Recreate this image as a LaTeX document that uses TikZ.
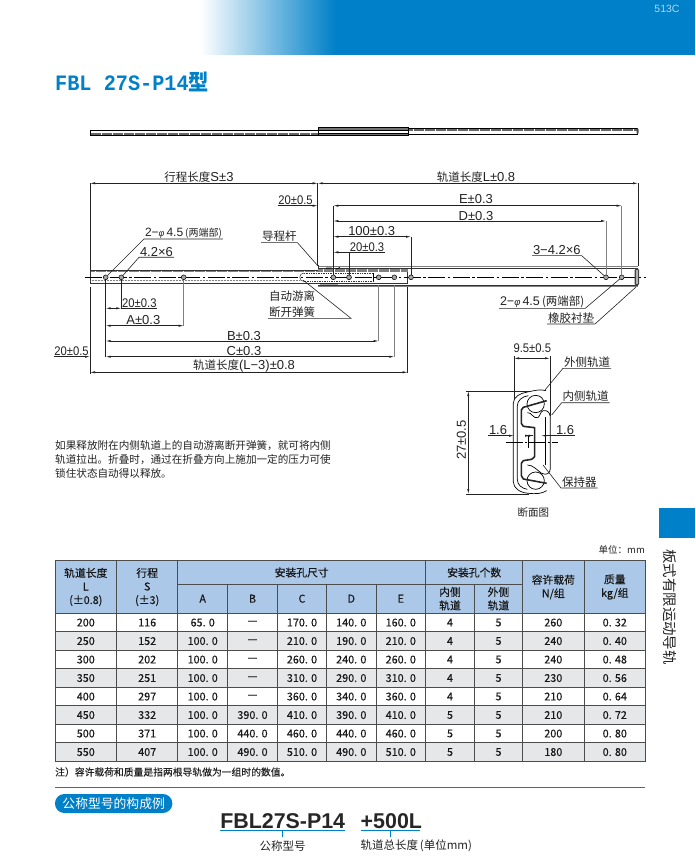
\documentclass[tikz,border=0pt]{standalone}
\usepackage{fontspec}
\usepackage{xcolor}
\usetikzlibrary{arrows.meta}
\setmainfont{Noto Sans CJK SC}
\newfontfamily\dimfont{Liberation Sans}
\newfontfamily\monofont{Liberation Mono}
\newfontfamily\tabfont[FakeBold=0.3]{Noto Sans CJK SC}
\definecolor{headblue}{HTML}{0080C8}
\definecolor{cellblue}{HTML}{ACC8E8}
\definecolor{rowgray}{HTML}{E6E7E8}
\definecolor{inkgray}{HTML}{222222}
\tikzset{
        dimline/.style={line width=0.6pt, draw=inkgray, {Latex[length=5pt,width=2.2pt]}-{Latex[length=5pt,width=2.2pt]}},
        dimto/.style={line width=0.6pt, draw=inkgray, -{Latex[length=5pt,width=2.2pt]}},
        extline/.style={line width=0.6pt, draw=inkgray},
        leader/.style={line width=0.6pt, draw=inkgray},
        cnlabel/.style={inner sep=0.8pt, text=inkgray, font=\fontsize{11.5}{12}\selectfont},
        bignum/.style={inner sep=0.8pt, text=inkgray, font=\dimfont\fontsize{13}{13}\selectfont},
        smallnum/.style={inner sep=0.8pt, xscale=0.9, text=inkgray, font=\dimfont\fontsize{12.5}{13}\selectfont},
        hole/.style={circle, draw=black, fill=gray!70, line width=0.5pt, inner sep=1.7pt},
        cell/.style={text=black!90, inner sep=0pt, align=center, font=\tabfont\fontsize{10.8}{13.5}\selectfont},
        tabrule/.style={line width=0.9pt, draw=black!70},
}
\begin{document}
\begin{tikzpicture}[x=1pt, y=-1pt]
        \useasboundingbox (0, 0) rectangle (695, 866);
        \shade[left color=white, right color=headblue] (200, 0) rectangle (335, 55);
        \fill[headblue] (335, 0) rectangle (695, 55);
        \node[text=white!70!headblue, font=\dimfont\fontsize{10.5}{11}\selectfont] (pagenum) at (667, 9) {513C};
        \node[anchor=west, inner sep=0pt, xscale=0.92, text=headblue, font=\bfseries\fontsize{22}{22}\selectfont] (title) at (55, 82) {{\monofont\bfseries FBL 27S-P14}型};

        \draw[line width=0.7pt, fill=white] (90, 130.5) rectangle (318, 135.5);
        \draw[line width=2pt, black!60, dash pattern=on 0.7pt off 0.4pt] (90.5, 134) -- (318, 134);
        \draw[line width=0.7pt, fill=white] (408, 128.5) rectangle (637, 134);
        \draw[line width=2pt, black!60, dash pattern=on 0.7pt off 0.4pt] (408, 129.7) -- (637, 129.7);
        \draw[line width=0.7pt, fill=black!55] (318, 127.5) rectangle (408, 135.2);
        \draw[line width=0.7pt, fill=white] (318, 130.8) rectangle (408, 133);
        \fill[black!70, rounded corners=0.8pt] (636.5, 128.5) rectangle (638.5, 134);

        \fill[white] (90, 270) rectangle (407.7, 283.3);
        \draw[line width=2.4pt, black!50, dash pattern=on 0.8pt off 0.3pt] (90, 271.3) -- (318, 271.3);
        \draw[line width=0.9pt, black!50, dash pattern=on 0.8pt off 0.7pt] (90, 280.8) -- (300, 280.8);
        \draw[line width=0.7pt, black!80] (90, 270) -- (318, 270) (90, 283.3) -- (407.7, 283.3) (90, 270) -- (90, 283.3) (407.7, 270) -- (407.7, 283.3);
        \draw[line width=1.6pt, black!50] (318, 266.5) -- (638, 266.5);
        \draw[line width=0.6pt, black!80] (318, 268.5) -- (638, 268.5);
        \draw[line width=2.4pt, black!50, dash pattern=on 0.8pt off 0.3pt] (318, 270.5) -- (407.7, 270.5);
        \draw[line width=0.7pt, black!80] (318, 265.5) -- (318, 268.5) (318, 285) -- (638, 285);
        \draw[line width=0.9pt, black!50] (318, 286.8) -- (638, 286.8);
        \draw[line width=0.5pt, black!80, dash pattern=on 1pt off 0.7pt] (304, 273) -- (373, 273) -- (373, 281.5) -- (304, 281.5);
        \draw[line width=0.5pt, black!80] (304, 273) arc[start angle=270, end angle=90, radius=4.25];
        \draw[line width=0.7pt, black] (320, 284) -- (338, 284) (326, 268) -- (332, 268) (336, 269) -- (340, 267.5);
        \draw[line width=0.5pt] (373, 273) -- (373, 281);
        \draw[line width=0.5pt, black, dash pattern=on 17pt off 2.5pt on 2.5pt off 2.5pt] (85, 277.3) -- (646, 277.3);
        \fill[black!75, rounded corners=1.5pt] (634.5, 268.5) rectangle (639, 285.5);
        \fill[white, opacity=0.6] (636, 270) rectangle (637.5, 284);

        \foreach \holename/\holex in {a/105.7, b/121.3, c/183.7, d/333.3, e/349, f/378.7, g/394.3, h/411, i/606, j/621.7}
                \node[hole] (h\holename) at (\holex, 277.3) {};
        \coordinate (railL) at (90, 277.3);
        \coordinate (railM) at (317.7, 277.3);
        \coordinate (railI) at (407.7, 277.3);
        \coordinate (railR) at (638, 277.3);

        \draw[extline] (railL |- 0, 183.3) -- (railL |- 0, 270) (railL |- 0, 287) -- (railL |- 0, 374);
        \draw[extline] (railM |- 0, 183.3) -- (railM |- 0, 266);
        \draw[extline] (railR |- 0, 183.3) -- (railR |- 0, 266);
        \draw[extline] (hd |- 0, 205.7) -- (hd);
        \draw[extline] (he |- 0, 252.3) -- (he);
        \draw[extline] (hh |- 0, 236.7) -- (hh);
        \draw[extline, gray] (hi |- 0, 221) -- (hi);
        \draw[extline, gray, line width=0.9pt] (hj |- 0, 205.7) -- (hj);
        \draw[extline, line width=0.9pt] (ha) -- (ha |- 0, 357);
        \draw[extline] (hb) -- (hb |- 0, 309);
        \draw[extline, gray] (hc) -- (hc |- 0, 326);
        \draw[extline, gray] (hf |- 0, 285) -- (hf |- 0, 341);
        \draw[extline, gray] (hg |- 0, 285) -- (hg |- 0, 357);
        \draw[extline] (railI |- 0, 287) -- (railI |- 0, 372.5);

        \draw[dimline] (railL |- 0, 183.3) -- (railM |- 0, 183.3);
        \draw[dimline] (railM |- 0, 183.3) -- (railR |- 0, 183.3);
        \draw[dimto] (278, 205.7) -- (railM |- 0, 205.7);
        \draw[dimline] (hd |- 0, 205.7) -- (hj |- 0, 205.7);
        \draw[dimline] (hd |- 0, 221) -- (hi |- 0, 221);
        \draw[dimline] (hd |- 0, 236.7) -- (hh |- 0, 236.7);
        \draw[dimto] (he |- 0, 252.3) -- (hd |- 0, 252.3);
        \draw[dimline] (ha |- 0, 308.3) -- (hb |- 0, 308.3);
        \draw[dimline] (ha |- 0, 325.7) -- (hc |- 0, 325.7);
        \draw[dimline] (ha |- 0, 341) -- (hf |- 0, 341);
        \draw[dimline] (ha |- 0, 356.7) -- (hg |- 0, 356.7);
        \draw[dimto] (54, 356.7) -- (railL |- 0, 356.7);
        \draw[dimline] (railL |- 0, 372.3) -- (railI |- 0, 372.3);

        \node[cnlabel, anchor=south] (stroke) at (199, 183) {行程长度{\dimfont\fontsize{13}{13}\selectfont S±3}};
        \node[cnlabel, anchor=south] (railtotal) at (476, 183) {轨道长度{\dimfont\fontsize{13}{13}\selectfont L±0.8}};
        \node[smallnum, anchor=south] (topoff) at (295.5, 205.5) {20±0.5};
        \node[bignum, anchor=south] (dimE) at (476, 204.5) {E±0.3};
        \node[bignum, anchor=south] (dimD) at (476, 222) {D±0.3};
        \node[bignum, anchor=south] (dimpitch) at (371.7, 237) {100±0.3};
        \node[smallnum, anchor=south west] (rpitch) at (349, 252.3) {20±0.3};
        \draw[leader] (rpitch.south west) -- (rpitch.south east);
        \node[smallnum, anchor=south west] (lpitch) at (121.3, 308.3) {20±0.3};
        \draw[leader] (lpitch.south west) -- (lpitch.south east);
        \node[bignum, anchor=south] (dimA) at (143.3, 326) {A±0.3};
        \node[bignum, anchor=south] (dimB) at (244, 342) {B±0.3};
        \node[bignum, anchor=south] (dimC) at (244, 357) {C±0.3};
        \node[smallnum, anchor=south] (leftoff) at (71.5, 356.7) {20±0.5};
        \node[cnlabel, anchor=south] (railshort) at (244, 373) {轨道长度{\dimfont\fontsize{13}{13}\selectfont (L−3)±0.8}};

        \node[cnlabel, anchor=south west] (endhole) at (144, 239) {{\dimfont\fontsize{12}{12}\selectfont 2−{\itshape\fontsize{9}{9}\selectfont φ}\,4.5\,}\fontsize{10}{10}\selectfont (两端部)};
        \draw[leader] (endhole.south east) -- (endhole.south west) -- (ha);
        \node[bignum, anchor=south west] (slot) at (139, 257.3) {4.2×6};
        \draw[leader] (slot.south east) -- (slot.south west) -- (hb);
        \node[cnlabel, anchor=south west] (leadrod) at (261, 242.7) {导程杆};
        \draw[leader] (leadrod.south west) -- (leadrod.south east) -- (318, 266);
        \node[cnlabel, anchor=south, align=center, font=\fontsize{11.5}{16}\selectfont] (spring) at (292, 318.3) {自动游离\\断开弹簧};
        \coordinate (springend) at (351, 318.3);
        \draw[leader] (spring.south west) -- (springend) -- (303, 280);
        \node[bignum, anchor=south west] (slotr) at (532, 255.7) {3−4.2×6};
        \draw[leader] (slotr.south west) -- (slotr.south east) -- (hi);
        \node[cnlabel, anchor=south west] (endholer) at (499, 308.3) {{\dimfont\fontsize{12.5}{12}\selectfont 2−{\itshape\fontsize{9.5}{9}\selectfont φ}\,4.5\,}\fontsize{11.5}{10}\selectfont (两端部)};
        \draw[leader] (endholer.south west) -- (endholer.south east) -- (hj);
        \node[cnlabel, anchor=south west] (rubber) at (547, 324) {橡胶衬垫};
        \draw[leader] (rubber.south west) -- (rubber.south east) -- (636, 287);

        \begin{scope}[shift={(440, 330)}, x=0.3333pt, y=-0.3333pt]
                \draw[line width=0.7pt] (318, 182) .. controls (300, 176) and (280, 183) .. (262, 186) .. controls (240, 190) and (220, 200) .. (220, 220) -- (220, 455) .. controls (220, 475) and (240, 488) .. (265, 490) .. controls (285, 492) and (305, 492) .. (320, 482);
                \draw[line width=0.7pt] (265, 197) .. controls (245, 200) and (232, 212) .. (232, 228) -- (232, 448) .. controls (232, 465) and (245, 475) .. (262, 478);
                \draw[line width=0.7pt] (287, 222) circle (26);
                \draw[line width=0.7pt] (287, 452) circle (26);
                \draw[line width=0.7pt] (262, 248) .. controls (275, 245) and (280, 270) .. (295, 262) .. controls (305, 250) and (300, 240) .. (318, 242) .. controls (328, 245) and (331, 255) .. (331, 265) -- (331, 415) .. controls (331, 430) and (320, 437) .. (305, 430) .. controls (290, 420) and (280, 405) .. (262, 405);
                \draw[line width=0.5pt] (315, 262) -- (315, 405);
                \draw[line width=1.6pt, black!85, line join=round] (320, 212) -- (250, 232) -- (244, 240) -- (244, 280) -- (250, 289) -- (284, 293) -- (284, 380) -- (275, 388) -- (250, 392) -- (244, 400) -- (244, 437) -- (250, 447) -- (320, 460);
                \draw[line width=0.5pt, dash pattern=on 17pt off 2pt on 2pt off 2pt] (197, 337) -- (355, 337);
                \draw[line width=0.5pt] (265, 315) -- (265, 355) (315, 315) -- (315, 340);
        \end{scope}
        \draw[extline] (514, 356) -- (514, 400);
        \draw[extline] (550, 356) -- (550, 416);
        \draw[dimline] (514, 358.3) -- (550, 358.3);
        \draw[extline] (466, 391) -- (529, 391);
        \draw[extline] (466, 494) -- (529, 494);
        \draw[dimline] (468.3, 391) -- (468.3, 494);
        \node[smallnum, anchor=south] (secw) at (532.3, 354) {9.5±0.5};
        \node[bignum, rotate=90] (sech) at (461.5, 440) {27±0.5};
        \node[bignum, anchor=south west] (thickl) at (488, 435.7) {1.6};
        \draw[dimto] (thickl.south west) -- (514, 435.7);
        \draw[dimto] (533, 435.7) -- (525, 435.7);
        \node[bignum, anchor=south west] (thickr) at (555, 435.7) {1.6};
        \draw[dimto] (thickr.south east) -- (541, 435.7);
        \draw[dimto] (526, 435.7) -- (530, 435.7);
        \node[cnlabel, anchor=south west] (outerlbl) at (563, 368.3) {外侧轨道};
        \draw[leader] (outerlbl.south east) -- (outerlbl.south west) -- (545, 390);
        \node[cnlabel, anchor=south west] (innerlbl) at (561.7, 402.7) {内侧轨道};
        \draw[leader] (innerlbl.south east) -- (innerlbl.south west) -- (551.7, 415);
        \node[cnlabel, anchor=south west] (cagelbl) at (561, 488) {保持器};
        \draw[leader] (cagelbl.south east) -- (cagelbl.south west) -- (543, 465);
        \node[cnlabel, font=\fontsize{10.5}{11}\selectfont] (seclbl) at (533.3, 513) {断面图};

        \node[anchor=north west, inner sep=0pt, align=left, text=inkgray, font=\fontsize{10.6}{14}\selectfont] (notetext) at (55, 440) {如果释放附在内侧轨道上的自动游离断开弹簧，就可将内侧\\轨道拉出。折叠时，通过在折叠方向上施加一定的压力可使\\锁住状态自动得以释放。};

        \fill[headblue] (659, 508) rectangle (695, 538);
        \node[rotate=-90, inner sep=0pt, text=inkgray, font=\fontsize{14.4}{15}\selectfont] (sidetext) at (670, 607) {板式有限运动导轨};
        \node[anchor=east, inner sep=0pt, text=inkgray, font=\fontsize{9.5}{10}\selectfont] (unit) at (645, 550) {单位：mm};

        \fill[cellblue] (55, 560.7) rectangle (645.7, 613.3);
        \foreach \i in {2, 4, 6, 8}
                \fill[rowgray] (55, 613.3 + 18.5 * \i - 18.5) rectangle (645.7, 613.3 + 18.5 * \i);
        \foreach \i in {0, ..., 8}
                \draw[tabrule] (55, 613.3 + 18.5 * \i) -- (645.7, 613.3 + 18.5 * \i);
        \draw[tabrule] (55, 560.7) rectangle (645.7, 761.3);
        \draw[tabrule] (177.7, 584) -- (522.7, 584);
        \foreach \x in {116.7, 177.7, 425.7, 522.7, 584}
                \draw[tabrule] (\x, 560.7) -- (\x, 761.3);
        \foreach \x in {227.7, 277.3, 326.7, 376, 474.3}
                \draw[tabrule] (\x, 584) -- (\x, 761.3);

        \node[cell, align=center] (hL) at (85.8, 587) {轨道长度\\L\\(±0.8)};
        \node[cell, align=center] (hS) at (147.2, 587) {行程\\S\\(±3)};
        \node[cell] (hmount) at (301.7, 572.5) {安装孔尺寸};
        \node[cell] (hcount) at (474.2, 572.5) {安装孔个数};
        \node[cell] (hload) at (553.3, 587) {容许载荷\\N/组};
        \node[cell] (hmass) at (614.8, 587) {质量\\kg/组};
        \node[cell] (hin) at (450, 598.7) {内侧\\轨道};
        \node[cell] (hout) at (498.5, 598.7) {外侧\\轨道};
        \foreach \t/\x in {A/202.7, B/252.5, C/302, D/351.3, E/400.8}
                \node[cell] (head\t) at (\x, 598.7) {\t};

        \foreach \rowvals [count=\i] in {
                {200, 116, 65. 0, —, 170. 0, 140. 0, 160. 0, 4, 5, 260, 0. 32},
                {250, 152, 100. 0, —, 210. 0, 190. 0, 210. 0, 4, 5, 240, 0. 40},
                {300, 202, 100. 0, —, 260. 0, 240. 0, 260. 0, 4, 5, 240, 0. 48},
                {350, 251, 100. 0, —, 310. 0, 290. 0, 310. 0, 4, 5, 230, 0. 56},
                {400, 297, 100. 0, —, 360. 0, 340. 0, 360. 0, 4, 5, 210, 0. 64},
                {450, 332, 100. 0, 390. 0, 410. 0, 390. 0, 410. 0, 5, 5, 210, 0. 72},
                {500, 371, 100. 0, 440. 0, 460. 0, 440. 0, 460. 0, 5, 5, 200, 0. 80},
                {550, 407, 100. 0, 490. 0, 510. 0, 490. 0, 510. 0, 5, 5, 180, 0. 80}} {
                \foreach \t [count=\j] in \rowvals {
                        \pgfmathsetmacro{\cx}{{85.8, 147.2, 202.7, 252.5, 302, 351.3, 400.8, 450, 498.5, 553.3, 614.8}[\j - 1]}
                        \node[cell] (r\i c\j) at (\cx, 604.05 + 18.5 * \i) {\t};
                }
        }

        \node[anchor=west, inner sep=0pt, text=inkgray, font=\tabfont\fontsize{9.8}{10}\selectfont] (footnote) at (55, 772) {注）容许载荷和质量是指两根导轨做为一组时的数值。};
        \draw[headblue, line width=1pt] (55, 787.3) -- (645, 787.3);
        \node[anchor=west, rounded corners=9.5pt, fill=headblue, text=white, minimum height=19pt, minimum width=117.5pt, inner sep=0pt, font=\fontsize{12.8}{13}\selectfont] (pill) at (54.7, 803.5) {公称型号的构成例};

        \node[anchor=south west, inner sep=0pt, text=black!85, font=\dimfont\bfseries\fontsize{21.4}{22}\selectfont, minimum width=125pt, minimum height=12pt] (partno) at (220, 829) {FBL27S-P14};
        \node[anchor=south west, inner sep=0pt, text=black!85, font=\dimfont\bfseries\fontsize{21.4}{22}\selectfont, minimum width=60pt, minimum height=12pt] (partlen) at (360.5, 829) {+500L};
        \coordinate (partnoA) at (220, 830);
        \coordinate (partnoB) at (345, 830);
        \coordinate (partlenA) at (360.5, 830);
        \coordinate (partlenB) at (420, 830);
        \draw[headblue, line width=1pt] (partnoA) -- (partnoB) (partlenA) -- (partlenB);
        \draw[headblue, line width=0.8pt] (282.7, 830) -- (282.7, 837) (390, 830) -- (390, 837);
        \node[cnlabel] (partnolbl) at (282.7, 846) {公称型号};
        \node[cnlabel, anchor=west] (partlenlbl) at (359.5, 846) {轨道总长度\,(单位mm)};
\end{tikzpicture}
\end{document}
